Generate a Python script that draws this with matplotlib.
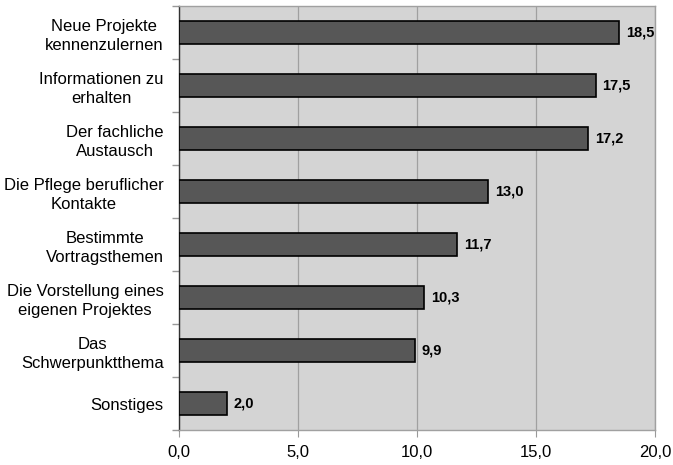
import matplotlib
matplotlib.use("Agg")
import matplotlib.pyplot as plt
import numpy as np

plt.rcParams['font.family'] = ['Liberation Sans', 'DejaVu Sans']

categories = ["Neue Projekte\nkennenzulernen", "Informationen zu\nerhalten",
              "Der fachliche\nAustausch", "Die Pflege beruflicher\nKontakte",
              "Bestimmte\nVortragsthemen", "Die Vorstellung eines\neigenen Projektes",
              "Das\nSchwerpunktthema", "Sonstiges"]
values = [18.5, 17.5, 17.2, 13.0, 11.7, 10.3, 9.9, 2.0]
xticks = [0, 5, 10, 15, 20]
xticklabels = ["0,0", "5,0", "10,0", "15,0", "20,0"]

fig = plt.figure(figsize=(6.73, 4.65), dpi=100)
ax = fig.add_axes([179/673, 1-430/465, (655-179)/673, (430-6)/465])
ax.set_facecolor('#d4d4d4')

n = len(categories)
y = np.arange(n)
ax.barh(y, values, height=0.42, color='#575757', edgecolor='black', linewidth=1.2, zorder=3)
for yi, v in zip(y, values):
    ax.annotate(f"{v:.1f}".replace('.', ','), (v, yi), xytext=(5, 0), textcoords='offset points',
                va='center', ha='left', fontsize=10.5, fontweight='bold', zorder=4)

ax.set_ylim(n - 0.5, -0.5)
ax.set_xlim(0, 20)
ax.set_xticks(xticks)
ax.set_xticklabels(xticklabels, fontsize=12)
ax.set_yticks(y)
ax.set_yticklabels(categories, fontsize=12, ha='right', multialignment='center', linespacing=1.35)
ax.tick_params(axis='y', length=0, pad=11)
ax.set_yticks(np.arange(-0.5, n, 1.0), minor=True)
ax.tick_params(axis='y', which='minor', length=5, color='#999999', width=1)
ax.tick_params(axis='x', length=5, color='#999999', pad=6)
ax.xaxis.grid(True, color='#a0a0a0', linewidth=0.9, zorder=1)
ax.set_axisbelow(True)

for s in ['top', 'right', 'bottom']:
    ax.spines[s].set_color('#a0a0a0')
    ax.spines[s].set_linewidth(1.0)
ax.spines['left'].set_color('#333333')
ax.spines['left'].set_linewidth(1.0)

fig.savefig('out.png', dpi=100)
